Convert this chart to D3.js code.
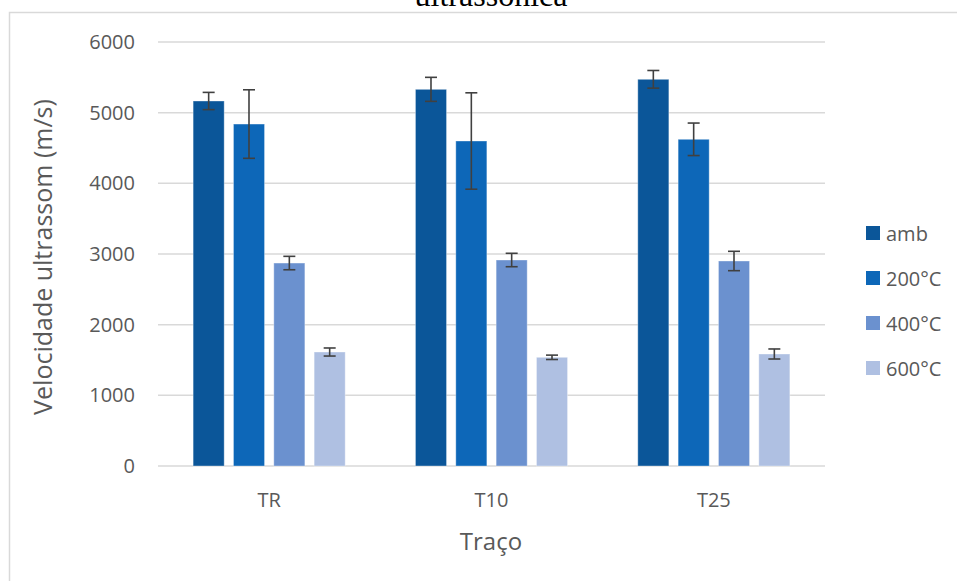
<!DOCTYPE html>
<html><head><meta charset="utf-8">
<script src="https://cdn.jsdelivr.net/npm/d3@7"></script>
<style>html,body{margin:0;padding:0;background:#fff;overflow:hidden}</style>
</head><body>
<svg id="chart" width="957" height="581"></svg>
<script>
const categories = ["TR", "T10", "T25"];
const seriesNames = ["amb", "200°C", "400°C", "600°C"];
const ambValues  = [5165, 5330, 5472];
const t200Values = [4839, 4599, 4623];
const t400Values = [2872, 2915, 2901];
const t600Values = [1613, 1538, 1585];
const ambErr  = [122, 170, 125];
const t200Err = [485, 682, 230];
const t400Err = [95, 95, 137];
const t600Err = [57, 31, 71];
const yTicks = [0, 1000, 2000, 3000, 4000, 5000, 6000];
const colors = ["#0b5699", "#0d67b8", "#6b91cf", "#afc0e2"];

const seriesValues = [ambValues, t200Values, t400Values, t600Values];
const seriesErrors = [ambErr, t200Err, t400Err, t600Err];

const svg = d3.select("#chart");
const font = "'Open Sans', 'Noto Sans', sans-serif";
const textColor = "#595959";

// chart border
svg.append("rect").attr("x", 9.5).attr("y", 12.5).attr("width", 1000).attr("height", 700)
  .attr("fill", "#fff").attr("stroke", "#d9d9d9").attr("stroke-width", 1.5);

// title (partly cut off at the top edge, as in the reference)
svg.append("text").attr("x", 491).attr("y", 6).attr("text-anchor", "middle")
  .attr("font-family", "'Liberation Serif', 'Times New Roman', serif").attr("font-size", 32)
  .attr("fill", "#000").text("ultrassônica");

const plotLeft = 158, plotRight = 825, plotTop = 42, plotBottom = 466;
const y = d3.scaleLinear().domain([0, 6000]).range([plotBottom, plotTop]);
const x0 = d3.scaleBand().domain(categories).range([plotLeft, plotRight]).paddingInner(0.316).paddingOuter(0.158);
const x1 = d3.scaleBand().domain(seriesNames).range([0, x0.bandwidth()]).paddingInner(0.23);

// gridlines
svg.append("g").selectAll("line").data(yTicks).join("line")
  .attr("x1", plotLeft).attr("x2", plotRight)
  .attr("y1", d => y(d)).attr("y2", d => y(d))
  .attr("stroke", "#d9d9d9").attr("stroke-width", 1.5);

// y axis labels
const yAxis = svg.append("g").attr("transform", `translate(${plotLeft - 10},0)`)
  .call(d3.axisLeft(y).tickValues(yTicks).tickSize(0).tickPadding(13).tickFormat(d3.format("d")));
yAxis.select(".domain").remove();
yAxis.selectAll("text").attr("font-family", font).attr("font-size", 20).attr("fill", textColor);

// x axis labels
const xAxis = svg.append("g").attr("transform", `translate(0,${plotBottom})`)
  .call(d3.axisBottom(x0).tickSize(0).tickPadding(27));
xAxis.select(".domain").remove();
xAxis.selectAll("text").attr("font-family", font).attr("font-size", 20).attr("fill", textColor);

// bars
const groups = svg.append("g").selectAll("g").data(categories).join("g")
  .attr("transform", d => `translate(${x0(d)},0)`);
seriesNames.forEach((s, si) => {
  groups.append("rect")
    .attr("x", x1(s)).attr("width", x1.bandwidth())
    .attr("y", (d, ci) => y(seriesValues[si][ci]))
    .attr("height", (d, ci) => y(0) - y(seriesValues[si][ci]))
    .attr("fill", colors[si]).attr("stroke", "#ffffff").attr("stroke-opacity", 0.35).attr("stroke-width", 1);
});
// error bars
seriesNames.forEach((s, si) => {
  const cx = x1(s) + x1.bandwidth() / 2;
  const eg = groups.append("g").attr("stroke", "#404040").attr("stroke-width", 1.6);
  eg.append("line").attr("x1", cx).attr("x2", cx)
    .attr("y1", (d, ci) => y(seriesValues[si][ci] + seriesErrors[si][ci]))
    .attr("y2", (d, ci) => y(seriesValues[si][ci] - seriesErrors[si][ci]));
  eg.append("line").attr("x1", cx - 6).attr("x2", cx + 6)
    .attr("y1", (d, ci) => y(seriesValues[si][ci] + seriesErrors[si][ci]))
    .attr("y2", (d, ci) => y(seriesValues[si][ci] + seriesErrors[si][ci]));
  eg.append("line").attr("x1", cx - 6).attr("x2", cx + 6)
    .attr("y1", (d, ci) => y(seriesValues[si][ci] - seriesErrors[si][ci]))
    .attr("y2", (d, ci) => y(seriesValues[si][ci] - seriesErrors[si][ci]));
});

// axis titles
svg.append("text").attr("x", 491).attr("y", 550).attr("text-anchor", "middle")
  .attr("font-family", font).attr("font-size", 24).attr("fill", textColor).text("Traço");
svg.append("text").attr("transform", `translate(45,257) rotate(-90)`)
  .attr("text-anchor", "middle").attr("dominant-baseline", "middle")
  .attr("font-family", font).attr("font-size", 25).attr("fill", textColor).text("Velocidade ultrassom (m/s)");

// legend
const legend = svg.append("g").selectAll("g").data(seriesNames).join("g")
  .attr("transform", (d, i) => `translate(866,${226 + i * 45})`);
legend.append("rect").attr("width", 14).attr("height", 14).attr("fill", (d, i) => colors[i]);
legend.append("text").attr("x", 20).attr("y", 7).attr("dominant-baseline", "central")
  .attr("font-family", font).attr("font-size", 20).attr("fill", textColor).text(d => d);
</script>
</body></html>
